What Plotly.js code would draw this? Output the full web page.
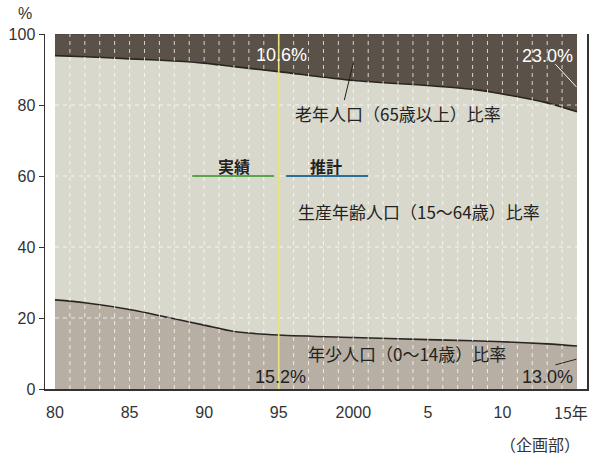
<!DOCTYPE html>
<html>
<head>
<meta charset="utf-8">
<script src="https://cdn.plot.ly/plotly-3.0.1.min.js"></script>
<style>html,body{margin:0;padding:0;background:#fff;}#chart{width:591px;height:457px;}</style>
</head>
<body>
<div id="chart"></div>
<script>
// ---- data ----
var years   = [1980, 1982, 1985, 1988, 1990, 1992, 1995, 2000, 2005, 2008, 2010, 2013, 2015];
var young   = [25.1, 24.3, 22.4, 19.8, 18.0, 16.2, 15.2, 14.5, 13.9, 13.6, 13.3, 12.7, 12.1];   // 年少人口(0〜14歳)
var working = [68.8, 69.3, 70.6, 72.6, 73.8, 74.6, 74.2, 72.4, 71.6, 70.8, 69.8, 67.9, 66.0];   // 生産年齢人口(15〜64歳)
var elderly = [6.1, 6.4, 7.0, 7.6, 8.2, 9.2, 10.6, 13.1, 14.5, 15.6, 16.9, 19.4, 21.9];        // 老年人口(65歳以上)
var tickYears = [1980, 1985, 1990, 1995, 2000, 2005, 2010, 2015];
var tickText  = ['80', '85', '90', '95', '2000', '5', '10', ''];
var yTicks    = [0, 20, 40, 60, 80, 100];
var splitYear = 1995;   // 実績 / 推計 boundary

var cjk = '"Noto Sans CJK JP", "Noto Sans", sans-serif';
var lat = '"Liberation Sans", Arial, sans-serif';

var traces = [];
traces.push({x: years, y: young, stackgroup: 'one', mode: 'lines',
  line: {color: '#2a2522', width: 1.6, shape: 'spline', smoothing: 0.8},
  fillcolor: '#b7afa4', hoverinfo: 'skip'});
traces.push({x: years, y: working, stackgroup: 'one', mode: 'lines',
  line: {color: '#2a2522', width: 1.6, shape: 'spline', smoothing: 0.8},
  fillcolor: '#d9d8cd', hoverinfo: 'skip'});
traces.push({x: years, y: elderly, stackgroup: 'one', mode: 'lines',
  line: {color: '#4a423c', width: 1, shape: 'spline', smoothing: 0.8},
  fillcolor: '#5a5149', hoverinfo: 'skip'});

// dashed white grid drawn over the areas
var gx = [], gy = [];
for (var yr = years[0] + 1; yr < years[years.length - 1]; yr++) {
  gx.push(yr, yr, null); gy.push(0, 100, null);
}
for (var i = 1; i < yTicks.length - 1; i++) {
  gx.push(years[0], years[years.length - 1], null); gy.push(yTicks[i], yTicks[i], null);
}
traces.push({x: gx, y: gy, mode: 'lines', hoverinfo: 'skip',
  line: {color: 'rgba(255,255,255,0.75)', width: 1, dash: '4px,4px'}});
// 1995 divider
traces.push({x: [splitYear, splitYear], y: [0, 100], mode: 'lines', hoverinfo: 'skip',
  line: {color: '#e8e27a', width: 1.6}});

var ann = [
  {text: '%', xref: 'paper', yref: 'paper', x: -0.037, y: 1.059, font: {family: lat, size: 16, color: '#333'}},
  {text: '10.6%', x: 1995.2, y: 94.1, font: {family: lat, size: 18, color: '#ffffff'}},
  {text: '23.0%', x: 2013.0, y: 93.8, font: {family: lat, size: 18, color: '#ffffff'}},
  {text: '老年人口（65歳以上）比率', x: 2003.0, y: 77.7, font: {family: cjk, size: 17, color: '#222'}},
  {text: '<b>実績</b>', x: 1992.0, y: 62.8, font: {family: cjk, size: 16, color: '#222'}},
  {text: '<b>推計</b>', x: 1998.2, y: 62.8, font: {family: cjk, size: 16, color: '#222'}},
  {text: '生産年齢人口（15〜64歳）比率', x: 2004.4, y: 49.9, font: {family: cjk, size: 17, color: '#222'}},
  {text: '年少人口（0〜14歳）比率', x: 2003.6, y: 10.1, font: {family: cjk, size: 17, color: '#222'}},
  {text: '15.2%', x: 1995.15, y: 3.4, font: {family: lat, size: 18, color: '#222'}},
  {text: '13.0%', x: 2013.0, y: 3.4, font: {family: lat, size: 18, color: '#222'}},
  {text: '15年', xref: 'paper', yref: 'paper', x: 1, xanchor: 'right', xshift: 3, y: -0.065, font: {family: cjk, size: 16, color: '#333'}},
  {text: '（企画部）', xref: 'paper', yref: 'paper', x: 0.913, y: -0.156, font: {family: cjk, size: 16, color: '#333'}}
];
ann.forEach(function (a) { a.showarrow = false; if (!a.xanchor) a.xanchor = 'center'; a.yanchor = 'middle'; });

var shapes = [
  {type: 'line', x0: 1989.2, x1: 1994.7, y0: 60, y1: 60, line: {color: '#5aa545', width: 2}},
  {type: 'line', x0: 1995.5, x1: 2001.0, y0: 60, y1: 60, line: {color: '#2d6d9c', width: 2}},
  {type: 'line', x0: 2013.55, y0: 91.5, x1: 2014.96, y1: 85.1, line: {color: '#ffffff', width: 1}},
  {type: 'line', x0: 1999.4, y0: 81.4, x1: 2000.0, y1: 91.8, line: {color: '#222', width: 1}},
  {type: 'line', x0: 2013.55, y0: 6.8, x1: 2014.96, y1: 8.4, line: {color: '#222', width: 1}}
];

var layout = {
  width: 591, height: 457,
  margin: {l: 45, r: 4, t: 34, b: 68},
  paper_bgcolor: '#ffffff', plot_bgcolor: '#ffffff',
  showlegend: false,
  xaxis: {range: [1979.33, 2015.67], tickvals: tickYears, ticktext: tickText,
    showgrid: false, zeroline: false, showline: true, linecolor: '#333', linewidth: 1.5,
    ticks: 'outside', ticklen: 8, tickcolor: 'rgba(0,0,0,0)',
    tickfont: {family: lat, size: 16, color: '#333'}, fixedrange: true},
  yaxis: {range: [0, 100], tickvals: yTicks, showgrid: false, zeroline: false,
    showline: true, mirror: true, linecolor: '#333', linewidth: 1.5,
    ticks: 'outside', ticklen: 5, tickcolor: '#333',
    tickfont: {family: lat, size: 16, color: '#333'}, fixedrange: true},
  annotations: ann,
  shapes: shapes
};

Plotly.newPlot('chart', traces, layout, {displayModeBar: false, staticPlot: true});
</script>
</body>
</html>
